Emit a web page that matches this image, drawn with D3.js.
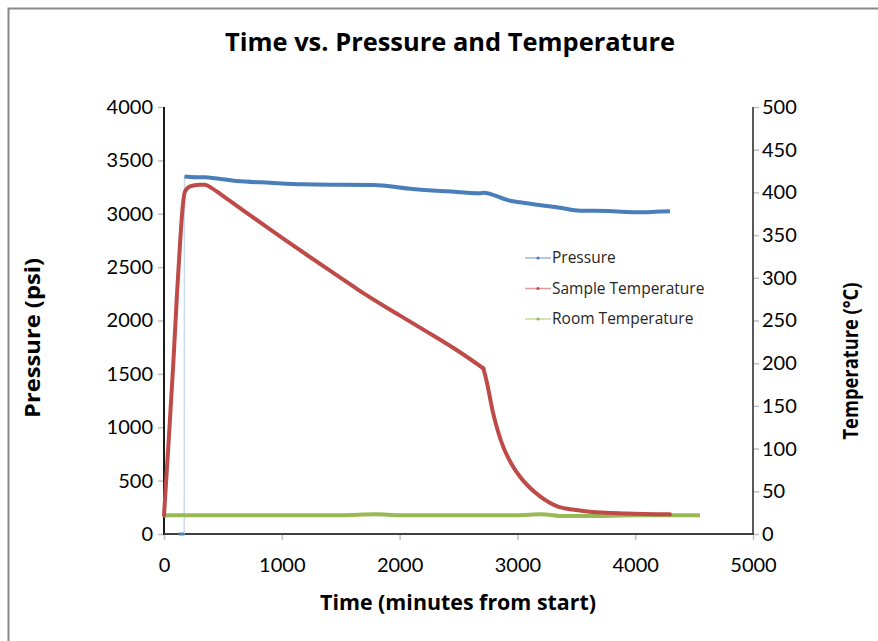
<!DOCTYPE html>
<html>
<head>
<meta charset="utf-8">
<script src="https://cdn.jsdelivr.net/npm/d3@7"></script>
<style>
  html, body { margin: 0; padding: 0; background: #fff; }
  svg { display: block; font-family: "Open Sans", Lato, sans-serif; }
</style>
</head>
<body>
<div id="chart"></div>
<script>
// values: [minutes, value]
const pressureStartup = [[125, 0], [150, 0], [172, 0]];
const pressure = [[174, 3350], [220, 3345], [348, 3341], [617, 3307], [900, 3290], [1180, 3276],
  [1500, 3272], [1775, 3270], [2115, 3232], [2400, 3210], [2682, 3191], [2708, 3197],
  [2937, 3122], [3022, 3107], [3200, 3080], [3362, 3057], [3531, 3029], [3761, 3026],
  [4041, 3013], [4200, 3020], [4295, 3023]];
const sampleTemp = [[0, 22], [40, 110], [79, 200], [110, 280], [136, 340], [160, 385], [178, 401],
  [221, 407], [300, 409], [348, 409], [405, 405], [500, 396], [702, 376], [1000, 347],
  [1211, 327], [1500, 300], [1692, 282], [2000, 256], [2230, 237], [2500, 214], [2711, 194],
  [2740, 178], [2795, 141], [2840, 118], [2880, 102], [2950, 82], [3022, 67], [3100, 55],
  [3192, 44], [3345, 32], [3500, 28], [3616, 26], [3928, 24], [4295, 23]];
const sampleKneeTime = 2711; // cooling rate changes sharply here
const roomTemp = [[0, 21], [30, 22], [500, 22], [1000, 22], [1500, 22], [1800, 23], [2000, 22],
  [2500, 22], [3000, 22], [3200, 23], [3400, 21], [3600, 21], [4000, 22], [4550, 22]];

const xTicks = [0, 1000, 2000, 3000, 4000, 5000];
const pTicks = [0, 500, 1000, 1500, 2000, 2500, 3000, 3500, 4000];
const tTicks = [0, 50, 100, 150, 200, 250, 300, 350, 400, 450, 500];

const legendItems = [
  {name: "Pressure", color: "#4a7ebb"},
  {name: "Sample Temperature", color: "#be4b48"},
  {name: "Room Temperature", color: "#98b954"}
];

const width = 878, height = 641;
const plotLeft = 164, plotRight = 753, plotTop = 107, plotBottom = 534;

const svg = d3.select("#chart").append("svg")
  .attr("width", width)
  .attr("height", height);

// outer frame (only top/left edges visible)
svg.append("path")
  .attr("d", "M8.5,641 V8.5 H878")
  .attr("fill", "none")
  .attr("stroke", "#8a8a8a")
  .attr("stroke-width", 2);

const x = d3.scaleLinear().domain([0, 5000]).range([plotLeft, plotRight]);
const yP = d3.scaleLinear().domain([0, 4000]).range([plotBottom, plotTop]);
const yT = d3.scaleLinear().domain([0, 500]).range([plotBottom, plotTop]);

// axes
function styleAxis(g) {
  g.select(".domain").remove();
  g.selectAll(".tick line").attr("stroke", "#bfbfbf").attr("stroke-width", 1.5);
  g.selectAll(".tick text").attr("fill", "#000").style("font-size", "20px")
    .style("font-family", "Lato, sans-serif");
}

svg.append("g")
  .attr("transform", `translate(0,${plotBottom})`)
  .call(d3.axisBottom(x).tickValues(xTicks).tickFormat(d3.format("d")).tickSize(6).tickPadding(18))
  .call(styleAxis);

svg.append("g")
  .attr("transform", `translate(${plotLeft},0)`)
  .call(d3.axisLeft(yP).tickValues(pTicks).tickFormat(d3.format("d")).tickSize(6).tickPadding(5))
  .call(styleAxis);

svg.append("g")
  .attr("transform", `translate(${plotRight},0)`)
  .call(d3.axisRight(yT).tickValues(tTicks).tickFormat(d3.format("d")).tickSize(6).tickPadding(3))
  .call(styleAxis);

// axis lines
svg.append("line").attr("x1", plotLeft).attr("x2", plotLeft).attr("y1", plotTop).attr("y2", plotBottom + 1)
  .attr("stroke", "#1a1a1a").attr("stroke-width", 2);
svg.append("line").attr("x1", plotRight).attr("x2", plotRight).attr("y1", plotTop).attr("y2", plotBottom + 1)
  .attr("stroke", "#595959").attr("stroke-width", 2);
svg.append("line").attr("x1", plotLeft).attr("x2", plotRight + 1).attr("y1", plotBottom).attr("y2", plotBottom)
  .attr("stroke", "#404040").attr("stroke-width", 2);

// series
const lineP = d3.line().x(d => x(d[0])).y(d => yP(d[1])).curve(d3.curveMonotoneX);
const lineT = d3.line().x(d => x(d[0])).y(d => yT(d[1])).curve(d3.curveMonotoneX);

// thin connector between startup zeros and first reading
svg.append("path")
  .attr("d", d3.line().x(d => x(d[0])).y(d => yP(d[1]))(
    [pressureStartup[pressureStartup.length - 1], pressure[0]]))
  .attr("fill", "none").attr("stroke", "#c9dbf0").attr("stroke-width", 1.5);

svg.append("path")
  .attr("d", lineT(roomTemp))
  .attr("fill", "none").attr("stroke", "#98b954").attr("stroke-width", 4)
  .attr("stroke-linejoin", "round");

// sample temperature drawn in two smooth pieces so the knee stays sharp
const sampleParts = [
  sampleTemp.filter(d => d[0] <= sampleKneeTime),
  sampleTemp.filter(d => d[0] >= sampleKneeTime)
];
svg.selectAll("path.sample")
  .data(sampleParts)
  .enter().append("path")
    .attr("class", "sample")
    .attr("d", d => lineT(d))
    .attr("fill", "none").attr("stroke", "#be4b48").attr("stroke-width", 4)
    .attr("stroke-linejoin", "round").attr("stroke-linecap", "round");

svg.append("path")
  .attr("d", lineP(pressureStartup))
  .attr("fill", "none").attr("stroke", "#4a7ebb").attr("stroke-width", 3);

svg.append("path")
  .attr("d", lineP(pressure))
  .attr("fill", "none").attr("stroke", "#4a7ebb").attr("stroke-width", 4)
  .attr("stroke-linejoin", "round");

// legend
const legend = svg.append("g").attr("transform", "translate(525,258)");
legendItems.forEach((d, i) => {
  const g = legend.append("g").attr("transform", `translate(0,${i * 30.5})`);
  g.append("line").attr("x1", 0).attr("x2", 26).attr("y1", 0).attr("y2", 0)
    .attr("stroke", d.color).attr("stroke-opacity", 0.55).attr("stroke-width", 1.5);
  g.append("circle").attr("cx", 13).attr("cy", 0).attr("r", 1.6).attr("fill", d.color);
  g.append("text").attr("x", 27).attr("y", 0).attr("dy", "0.35em")
    .style("font-size", "15.5px").attr("fill", "#262626").text(d.name);
});

// titles
svg.append("text")
  .attr("x", 450).attr("y", 51)
  .attr("text-anchor", "middle")
  .attr("textLength", 450).attr("lengthAdjust", "spacingAndGlyphs")
  .style("font-size", "25px").style("font-weight", "bold")
  .text("Time vs. Pressure and Temperature");

svg.append("text")
  .attr("x", 458).attr("y", 610)
  .attr("text-anchor", "middle")
  .attr("textLength", 276).attr("lengthAdjust", "spacingAndGlyphs")
  .style("font-size", "21px").style("font-weight", "bold")
  .text("Time (minutes from start)");

svg.append("text")
  .attr("transform", "translate(40,338) rotate(-90)")
  .attr("text-anchor", "middle")
  .attr("textLength", 160).attr("lengthAdjust", "spacingAndGlyphs")
  .style("font-size", "21px").style("font-weight", "bold")
  .text("Pressure (psi)");

svg.append("text")
  .attr("transform", "translate(858,361) rotate(-90)")
  .attr("text-anchor", "middle")
  .attr("textLength", 157).attr("lengthAdjust", "spacingAndGlyphs")
  .style("font-size", "21px").style("font-weight", "bold")
  .text("Temperature (°C)");
</script>
</body>
</html>
